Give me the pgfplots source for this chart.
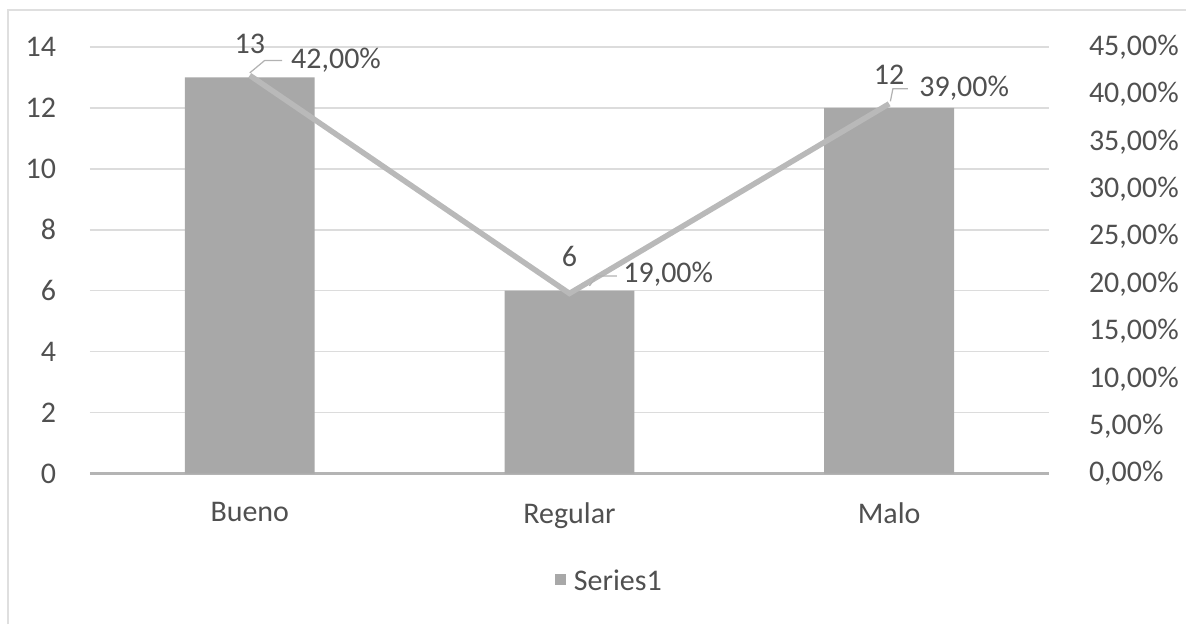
\documentclass[border=0pt]{standalone}
\usepackage{pgfplots}
\pgfplotsset{compat=1.18}
\usepackage{pgfplotstable}
\usepackage{fontspec}
\setmainfont{Carlito}
\definecolor{txt}{RGB}{80,80,80}
\definecolor{gridc}{RGB}{220,220,220}
\definecolor{barc}{RGB}{168,168,168}
\definecolor{linec}{RGB}{185,185,185}
\definecolor{axl}{RGB}{180,180,180}
\pgfplotstableread{
x y
0 13
1 6
2 12
}\bars
\pgfplotstableread{
x y dx dy
0 42 15.5 6.0
1 19 20.5 7.5
2 39 11.0 6.4
}\pct
\begin{document}
\begin{tikzpicture}
\begin{scope}[x=0.4pt,y=-0.4pt]
\path[use as bounding box] (0,0) rectangle (1187,625);
\draw[gray!25, line width=1pt] (8,625) -- (8,10) -- (1187,10);
\fill[barc] (556,575) rectangle (567,586);
\node[anchor=west, font=\fontsize{12}{13}\selectfont, text=txt, inner sep=0pt] at (574,581) {Series1};
\end{scope}
\begin{axis}[
  at={(36pt,-189.6pt)}, anchor=south west,
  scale only axis, width=384pt, height=170.8pt,
  xmin=-0.5, xmax=2.5, ymin=0, ymax=14,
  xtick={0,1,2}, xticklabels={Bueno,Regular,Malo},
  ytick={0,2,...,14},
  axis y line*=left, axis x line*=bottom,
  y axis line style={draw=none}, x axis line style={draw=axl, line width=1.2pt},
  major tick length=0pt,
  xmajorgrids=false, ymajorgrids=true, grid style={draw=gridc, line width=0.6pt},
  tick label style={font=\fontsize{12}{13}\selectfont, text=txt},
  /pgf/number format/assume math mode=true,
  yticklabel style={xshift=-10pt},
  xticklabel style={yshift=-8pt},
  clip=false,
]
\addplot[ybar, bar width=52pt, fill=barc, draw=none,
  nodes near coords, nodes near coords style={font=\fontsize{12}{13}\selectfont, text=txt, yshift=6pt},
] table[x=x,y=y] {\bars};
\end{axis}
\begin{axis}[
  at={(36pt,-189.6pt)}, anchor=south west,
  scale only axis, width=384pt, height=170.8pt,
  xmin=-0.5, xmax=2.5, ymin=0, ymax=45,
  ytick={0,5,...,45},
  axis y line*=right, axis x line=none,
  y axis line style={draw=none},
  major tick length=0pt,
  yticklabel={\pgfmathprintnumber[fixed,fixed zerofill,precision=2,use comma]{\tick}\%},
  tick label style={font=\fontsize{12}{13}\selectfont, text=txt},
  /pgf/number format/assume math mode=true,
  yticklabel style={xshift=12.5pt},
  clip=false,
]
\addplot[linec, line width=2.2pt, mark=none,
  visualization depends on={\thisrow{dx} \as \dx},
  visualization depends on={\thisrow{dy} \as \dy},
  nodes near coords={\pgfmathprintnumber[fixed,fixed zerofill,precision=2,use comma,assume math mode=true]{\pgfplotspointmeta}\%},
  nodes near coords style={font=\fontsize{12}{13}\selectfont, text=txt, anchor=west, xshift=\dx pt, yshift=\dy pt, inner sep=0pt},
] table[x=x,y=y] {\pct};
\draw[gray!60, line width=0.5pt] (axis cs:0,42) ++(0pt,1pt) -- ++(6pt,5pt) -- ++(7pt,0pt);
\draw[gray!60, line width=0.5pt] (axis cs:1,19) ++(8pt,3pt) -- ++(3pt,4pt) -- ++(8pt,0pt);
\draw[gray!60, line width=0.5pt] (axis cs:2,39) ++(0.5pt,1pt) -- ++(1pt,5pt) -- ++(6pt,0pt);
\end{axis}
\end{tikzpicture}
\end{document}
